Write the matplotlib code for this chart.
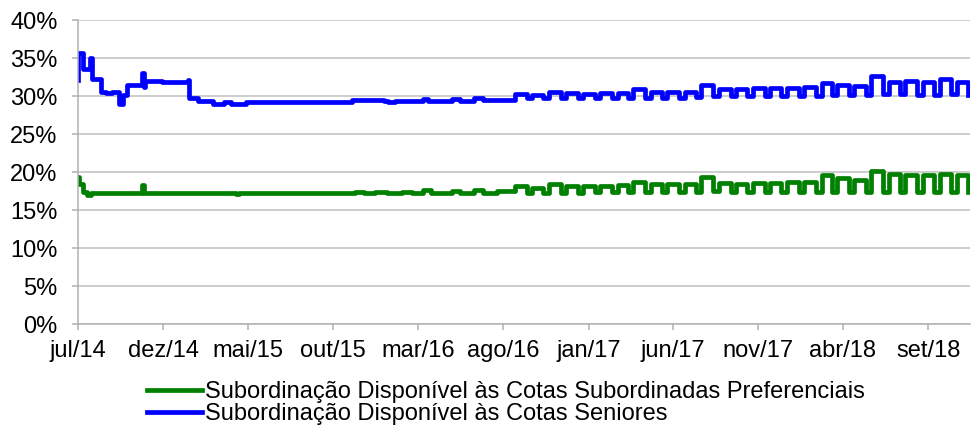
import pandas as pd
import numpy as np
import matplotlib
matplotlib.use("Agg")
import matplotlib.pyplot as plt

plt.rcParams["font.family"] = ["Liberation Sans", "DejaVu Sans"]

# --- data (% values) ---
# early part: irregular steps (date, value)
blue_early_dates = ["2014-07-01", "2014-07-02", "2014-07-10", "2014-07-23", "2014-07-26",
                    "2014-08-11", "2014-08-20", "2014-09-01", "2014-09-12", "2014-09-20",
                    "2014-09-28", "2014-10-24", "2014-10-27", "2014-10-30", "2014-11-28",
                    "2015-01-14", "2015-01-17", "2015-02-01", "2015-02-28", "2015-03-20",
                    "2015-04-01", "2015-04-28", "2015-11-05", "2016-01-01", "2016-01-08",
                    "2016-01-20", "2016-03-10", "2016-03-20", "2016-05-01", "2016-05-15",
                    "2016-06-10", "2016-06-25"]
blue_early = [32.1, 35.6, 33.5, 35.0, 32.3,
              30.6, 30.4, 30.6, 29.0, 30.2,
              31.4, 33.0, 31.2, 32.0, 31.8,
              32.1, 29.7, 29.4, 29.0, 29.2,
              29.0, 29.25, 29.5, 29.4, 29.2,
              29.4, 29.6, 29.4, 29.6, 29.4,
              29.7, 29.5]

green_early_dates = ["2014-07-01", "2014-07-04", "2014-07-10", "2014-07-18", "2014-07-25",
                     "2014-10-24", "2014-10-27", "2015-04-10", "2015-04-16", "2015-11-10",
                     "2015-11-25", "2015-12-15", "2016-01-05", "2016-02-01", "2016-02-20",
                     "2016-03-10", "2016-03-25", "2016-05-01", "2016-05-15", "2016-06-10",
                     "2016-06-25", "2016-07-20"]
green_early = [19.4, 18.5, 17.4, 17.0, 17.3,
               18.3, 17.3, 17.1, 17.3, 17.4,
               17.2, 17.4, 17.2, 17.4, 17.2,
               17.6, 17.3, 17.5, 17.2, 17.6,
               17.3, 17.5]

# later part: monthly pulses (high value late in month, low value after mid next month)
pulse_months = ["2016-08", "2016-09", "2016-10", "2016-11", "2016-12",
                "2017-01", "2017-02", "2017-03", "2017-04", "2017-05", "2017-06",
                "2017-07", "2017-08", "2017-09", "2017-10", "2017-11", "2017-12",
                "2018-01", "2018-02", "2018-03", "2018-04", "2018-05", "2018-06",
                "2018-07", "2018-08", "2018-09", "2018-10"]
blue_hi = [30.3, 30.2, 30.6, 30.4, 30.3,
           30.4, 30.4, 30.9, 30.6, 30.6, 30.6,
           31.4, 30.9, 30.9, 31.1, 31.1, 31.1,
           31.2, 31.7, 31.5, 31.3, 32.6, 31.9,
           32.0, 31.9, 32.3, 31.9]
blue_lo = [29.7, 29.7, 29.8, 29.7, 29.7,
           29.8, 29.8, 29.8, 29.8, 29.8, 29.9,
           30.0, 30.0, 30.0, 30.0, 30.0, 30.0,
           30.0, 30.1, 30.1, 30.1, 30.3, 30.3,
           30.2, 30.2, 30.3, 30.2]
green_hi = [18.2, 17.9, 18.5, 18.2, 18.2,
            18.2, 18.3, 18.7, 18.5, 18.5, 18.5,
            19.4, 18.6, 18.5, 18.6, 18.6, 18.7,
            18.7, 19.6, 19.2, 18.9, 20.2, 19.8,
            19.6, 19.6, 19.8, 19.6]
green_lo = [17.2, 17.2, 17.3, 17.3, 17.4,
            17.4, 17.4, 17.4, 17.4, 17.4, 17.4,
            17.5, 17.4, 17.4, 17.4, 17.4, 17.4,
            17.4, 17.4, 17.4, 17.4, 17.4, 17.4,
            17.4, 17.4, 17.4, 17.4]

tick_labels = ["jul/14", "dez/14", "mai/15", "out/15", "mar/16", "ago/16",
               "jan/17", "jun/17", "nov/17", "abr/18", "set/18"]

label_green = "Subordinação Disponível às Cotas Subordinadas Preferenciais"
label_blue = "Subordinação Disponível às Cotas Seniores"


def build(early_dates, early_vals, hi, lo):
    d = list(pd.to_datetime(early_dates))
    v = list(early_vals)
    for m, h, l in zip(pulse_months, hi, lo):
        start = pd.Timestamp(m + "-01")
        d.append(start + pd.Timedelta(days=21))
        v.append(h)
        d.append(start + pd.DateOffset(months=1) + pd.Timedelta(days=11))
        v.append(l)
    return pd.Series(v, index=d)


green = build(green_early_dates, green_early, green_hi, green_lo)
blue = build(blue_early_dates, blue_early, blue_hi, blue_lo)

fig = plt.figure(figsize=(9.72, 4.26), dpi=100)
ax = fig.add_axes([0.080, 0.239, 0.918, 0.714])

ax.plot(green.index, green.values, drawstyle="steps-post", color="#008000", lw=3.4,
        label=label_green)
ax.plot(blue.index, blue.values, drawstyle="steps-post", color="#0000ff", lw=3.4,
        label=label_blue)

ax.set_ylim(0, 40)
ax.set_yticks(np.arange(0, 41, 5))
ax.set_yticklabels([f"{v}%" for v in range(0, 41, 5)])
ax.set_xlim(pd.Timestamp("2014-07-01"), pd.Timestamp("2018-11-15"))
ticks = pd.date_range("2014-07-01", periods=len(tick_labels), freq="5MS")
ax.set_xticks(ticks)
ax.set_xticklabels(tick_labels)

ax.grid(axis="y", color="#c0c0c0", lw=1.1)
ax.set_axisbelow(True)
for s in ["top", "right"]:
    ax.spines[s].set_visible(False)
for s in ["left", "bottom"]:
    ax.spines[s].set_color("#b0b0b0")
    ax.spines[s].set_linewidth(1.1)
ax.tick_params(axis="both", labelsize=17, length=4.5, width=1.1, color="#b0b0b0",
               labelcolor="black")
ax.tick_params(axis="y", pad=10)
ax.tick_params(axis="x", pad=7)

fig.legend(loc="upper left", bbox_to_anchor=(0.151, 0.106), frameon=False,
           fontsize=17, handlelength=2.33, handletextpad=0.13, labelspacing=0.0,
           borderpad=0, borderaxespad=0)

fig.savefig("out.png", dpi=100)
